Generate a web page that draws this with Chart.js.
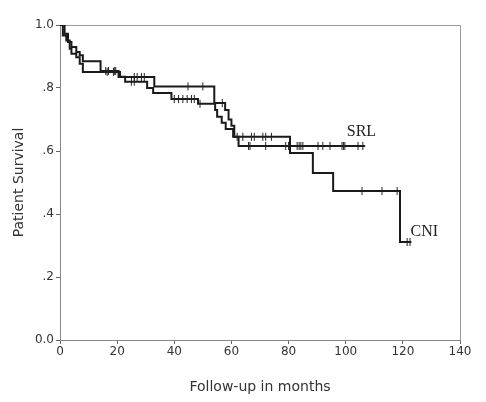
<!DOCTYPE html>
<html>
<head>
<meta charset="utf-8">
<script src="https://cdn.jsdelivr.net/npm/chart.js@4.4.0/dist/chart.umd.min.js"></script>
<style>
  html, body { margin: 0; padding: 0; background: #fff; }
  #wrap { width: 486px; height: 402px; }
</style>
</head>
<body>
<div id="wrap"><canvas id="kmChart" width="486" height="402"></canvas></div>
<script>
// Kaplan-Meier steps: time (months) where survival changes, and the new value
const cniTimes = [0, 1.6, 2.8, 4, 5.7, 6.9, 8, 14.2, 20.5, 33, 54, 57.8, 59, 60, 61, 80.5, 88.5, 95.6, 119, 123];
const cniSurv  = [1.0, 0.972, 0.946, 0.930, 0.914, 0.904, 0.885, 0.854, 0.835, 0.805, 0.752, 0.73, 0.70, 0.68, 0.645, 0.594, 0.53, 0.473, 0.311, 0.311];
const cniCensored = [16, 17, 19, 19.5, 26, 27, 28.5, 29.5, 44.8, 50, 56.8, 62, 64, 67, 68, 71, 72, 74, 105.7, 112.7, 118, 121.5, 122.5];

const srlTimes = [0, 1, 2.2, 3.4, 4, 5.7, 6.9, 8, 21, 22.8, 30.5, 32.6, 39, 48.3, 54.3, 55, 56.6, 58, 60.6, 62.5, 106.8];
const srlSurv  = [1.0, 0.967, 0.951, 0.925, 0.909, 0.898, 0.877, 0.851, 0.836, 0.82, 0.80, 0.784, 0.765, 0.75, 0.73, 0.709, 0.69, 0.67, 0.645, 0.616, 0.616];
const srlCensored = [16.5, 18.7, 25, 26, 40, 41.5, 43, 44.5, 46, 47, 49, 66, 66.5, 72, 79, 80, 83, 83.7, 84.3, 85, 90.3, 92, 94.5, 98.7, 99.2, 99.7, 104.3, 106];

const xTicks = [0, 20, 40, 60, 80, 100, 120, 140];
const yTicks = [0, 0.2, 0.4, 0.6, 0.8, 1.0];

const groupNames = ['SRL', 'CNI'];
const groupLabelAt = [[105.5, 0.66], [127.5, 0.345]];

function survAt(times, surv, t) {
  let s = surv[0];
  for (let i = 0; i < times.length; i++) {
    if (times[i] <= t) s = surv[i];
  }
  return s;
}

const toPoints = (xs, ys) => xs.map((x, i) => ({ x: x, y: ys[i] }));
const censorPoints = (cens, times, surv) => cens.map(t => ({ x: t, y: survAt(times, surv, t) }));

const font = 'DejaVu Sans';

const framePlugin = {
  id: 'frame',
  beforeDatasetsDraw(chart) {
    const { ctx, chartArea: a } = chart;
    ctx.save();
    ctx.strokeStyle = '#999';
    ctx.lineWidth = 1;
    ctx.beginPath();
    ctx.moveTo(a.left, Math.round(a.top) + 0.5);
    ctx.lineTo(Math.round(a.right) + 0.5, Math.round(a.top) + 0.5);
    ctx.lineTo(Math.round(a.right) + 0.5, a.bottom);
    ctx.stroke();
    ctx.restore();
  },
  afterDatasetsDraw(chart) {
    const { ctx } = chart;
    const xs = chart.scales.x, ys = chart.scales.y;
    ctx.save();
    ctx.fillStyle = '#222';
    ctx.font = '16px "Liberation Serif"';
    ctx.textAlign = 'center';
    ctx.textBaseline = 'middle';
    groupNames.forEach((name, i) => {
      ctx.fillText(name, xs.getPixelForValue(groupLabelAt[i][0]), ys.getPixelForValue(groupLabelAt[i][1]));
    });
    ctx.restore();
  }
};

const ctx = document.getElementById('kmChart').getContext('2d');

const kmChart = new Chart(ctx, {
  type: 'line',
  data: {
    datasets: [
      {
        label: 'CNI censored',
        type: 'scatter',
        data: censorPoints(cniCensored, cniTimes, cniSurv),
        pointStyle: 'line',
        rotation: 90,
        pointRadius: 4,
        borderColor: '#222',
        borderWidth: 1
      },
      {
        label: 'SRL censored',
        type: 'scatter',
        data: censorPoints(srlCensored, srlTimes, srlSurv),
        pointStyle: 'line',
        rotation: 90,
        pointRadius: 4,
        borderColor: '#222',
        borderWidth: 1
      },
      {
        label: 'CNI',
        data: toPoints(cniTimes, cniSurv),
        stepped: 'before',
        borderColor: '#1a1a1a',
        borderWidth: 2,
        pointRadius: 0,
        fill: false
      },
      {
        label: 'SRL',
        data: toPoints(srlTimes, srlSurv),
        stepped: 'before',
        borderColor: '#1a1a1a',
        borderWidth: 2,
        pointRadius: 0,
        fill: false
      }
    ]
  },
  options: {
    responsive: false,
    animation: false,
    layout: { padding: { top: 25, right: 26, left: 0, bottom: 0 } },
    plugins: {
      legend: { display: false },
      tooltip: { enabled: false }
    },
    scales: {
      x: {
        type: 'linear',
        min: 0,
        max: 140,
        afterBuildTicks: scale => { scale.ticks = xTicks.map(v => ({ value: v })); },
        afterFit: scale => { scale.height = 62; },
        ticks: { color: '#333', font: { family: font, size: 12 }, padding: 1, maxRotation: 0 },
        grid: { drawOnChartArea: false, tickLength: 4, color: '#666' },
        border: { color: '#888' },
        title: { display: true, text: 'Follow-up in months', color: '#333', font: { family: font, size: 14 }, padding: { top: 14, bottom: 6 } }
      },
      y: {
        min: 0,
        max: 1,
        afterBuildTicks: scale => { scale.ticks = yTicks.map(v => ({ value: v })); },
        afterFit: scale => { scale.width = 60; },
        ticks: {
          color: '#333',
          font: { family: font, size: 12 },
          padding: 2,
          callback: v => (v === 0 ? '0.0' : v === 1 ? '1.0' : '.' + Math.round(v * 10))
        },
        grid: { drawOnChartArea: false, tickLength: 4, color: '#666' },
        border: { color: '#888' },
        title: { display: true, text: 'Patient Survival', color: '#333', font: { family: font, size: 14 }, padding: { top: 11, bottom: 4 } }
      }
    }
  },
  plugins: [framePlugin]
});
</script>
</body>
</html>
